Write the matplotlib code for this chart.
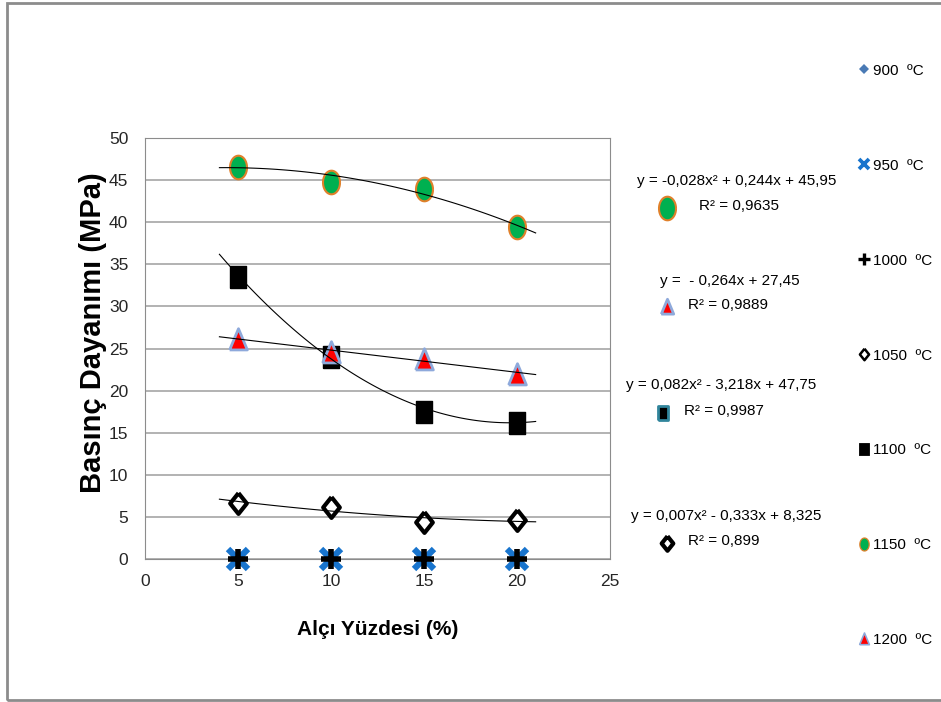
import numpy as np
import matplotlib
matplotlib.use('Agg')
from matplotlib import pyplot as plt
from matplotlib.lines import Line2D
from matplotlib.patches import Rectangle

plt.rcParams['font.family'] = ['Liberation Sans', 'DejaVu Sans']

# Alçı yüzdesi ve sıcaklığa göre basınç dayanımları (MPa)
alci = [5, 10, 15, 20]
s900 = [0, 0, 0, 0]
s950 = [0, 0, 0, 0]
s1000 = [0, 0, 0, 0]
s1050 = [6.6, 6.2, 4.4, 4.6]
s1100 = [33.5, 24.0, 17.5, 16.2]
s1150 = [46.6, 44.8, 43.9, 39.4]
s1200 = [26.0, 24.5, 23.6, 21.9]

# trend çizgisi katsayıları (yüksek dereceden başlayarak)
k1150 = [-0.028, 0.244, 45.95]
k1200 = [-0.264, 27.45]
k1100 = [0.082, -3.218, 47.75]
k1050 = [0.007, -0.333, 8.325]

# özel işaretçiler
elips = [(np.cos(t) * 0.72, np.sin(t)) for t in np.linspace(0, 2 * np.pi, 40)]
dortgen = [(-0.75, -1), (0.75, -1), (0.75, 1), (-0.75, 1), (-0.75, -1)]
ucgen = [(-0.75, -0.8), (0.75, -0.8), (0, 1), (-0.75, -0.8)]
baklava = [(0, 1), (0.8, 0), (0, -1), (-0.8, 0), (0, 1)]

stiller = {
    '900  ºC': dict(marker='D', color='#4a7ab5', ms=9, mew=0),
    '950  ºC': dict(marker='x', color='#1874cd', ms=14, mew=4.5),
    '1000  ºC': dict(marker='+', color='black', ms=15, mew=4),
    '1050  ºC': dict(marker=baklava, mfc='white', mec='black', ms=15, mew=3),
    '1100  ºC': dict(marker=dortgen, color='black', ms=16, mew=1),
    '1150  ºC': dict(marker=elips, mfc='#00b050', mec='#e0802a', ms=17, mew=1.5),
    '1200  ºC': dict(marker=ucgen, mfc='#ff0000', mec='#8ea9db', ms=17, mew=2),
}
seriler = [s900, s950, s1000, s1050, s1100, s1150, s1200]

fig = plt.figure(figsize=(9.41, 7.02), dpi=100)
ax = fig.add_axes([0.1541, 0.2037, 0.4942, 0.5997])

for (ad, st), y in zip(stiller.items(), seriler):
    ax.plot(alci, y, linestyle='none', label=ad, zorder=3, clip_on=False, **st)

xt = np.linspace(4, 21, 100)
for k in [k1150, k1200, k1100, k1050]:
    ax.plot(xt, np.polyval(k, xt), color='black', lw=0.8, zorder=4)

ax.set_xlim(0, 25)
ax.set_ylim(0, 50)
ax.set_xticks(range(0, 26, 5))
ax.set_yticks(range(0, 51, 5))
ax.grid(axis='y', color='#a6a6a6', lw=1.2)
ax.set_axisbelow(True)
for sp in ax.spines.values():
    sp.set_color('#8c8c8c')
ax.tick_params(length=0, labelsize=12.5, colors='#262626')
ax.tick_params(axis='y', pad=12)
ax.tick_params(axis='x', pad=11)

ax.set_xlabel('Alçı Yüzdesi (%)', fontsize=15, fontweight='bold', labelpad=22)
ax.set_ylabel('Basınç Dayanımı (MPa)', fontsize=21, fontweight='bold')
ax.yaxis.set_label_coords(-0.082, 0.537)

# sağdaki gösterge
tutamaklar = []
for ad, st in stiller.items():
    st2 = dict(st)
    st2['ms'] = st['ms'] * 0.55
    st2['mew'] = st.get('mew', 1) * 0.6
    tutamaklar.append(Line2D([], [], linestyle='none', **st2))
fig.legend(tutamaklar, list(stiller.keys()), loc='upper left',
           bbox_to_anchor=(0.899, 0.929), frameon=False, fontsize=11,
           handlelength=0.6, handletextpad=0.3, labelspacing=5.3)

# trend denklemleri
denklemler = [
    ('y = -0,028x² + 0,244x + 45,95', 'R² = 0,9635', 0.783, 0.742, 0.709, 0.703, '1150  ºC', 1.0),
    ('y =  - 0,264x + 27,45', 'R² = 0,9889', 0.776, 0.600, 0.709, 0.563, '1200  ºC', 0.7),
    ('y = 0,082x² - 3,218x + 47,75', 'R² = 0,9987', 0.766, 0.452, 0.705, 0.412, '1100  ºC', 0.65),
    ('y = 0,007x² - 0,333x + 8,325', 'R² = 0,899', 0.772, 0.265, 0.709, 0.227, '1050  ºC', 0.7),
]
for d, r2, dx, dy, mx, my, ad, olc in denklemler:
    fig.text(dx, dy, d, fontsize=11, ha='center', va='center')
    st2 = dict(stiller[ad])
    st2['ms'] = st2['ms'] * olc
    if ad == '1100  ºC':
        st2['mec'] = '#31859c'
        st2['mew'] = 2
    fig.add_artist(Line2D([mx], [my], transform=fig.transFigure, linestyle='none', **st2))
    fig.text(mx + (0.034 if ad == '1150  ºC' else 0.022), my + 0.003, r2,
             fontsize=11, ha='left', va='center')

# dış çerçeve
fig.add_artist(Rectangle((0.0075, 0.003), 1.2, 0.993, transform=fig.transFigure,
                         fill=False, ec='#8c8c8c', lw=2))

fig.savefig('out.png', dpi=100)
